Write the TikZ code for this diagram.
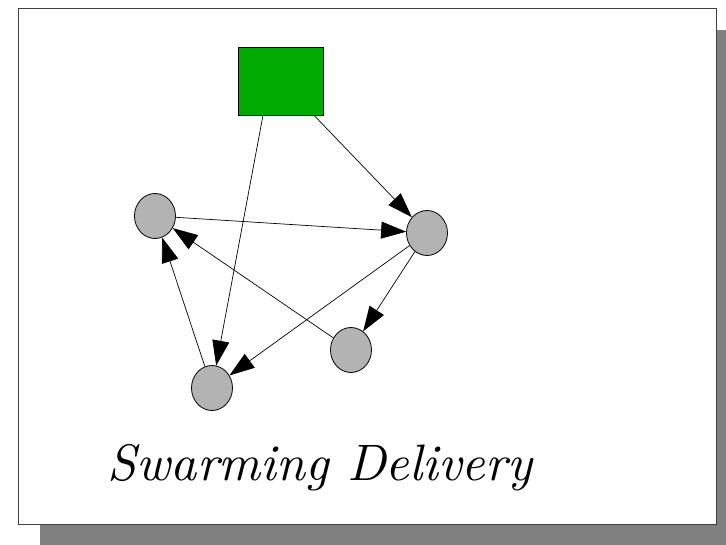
\documentclass[tikz,border=0pt]{standalone}
\usetikzlibrary{arrows.meta,shapes.geometric}
\definecolor{pagegray}{HTML}{808080}
\definecolor{nodegray}{HTML}{B3B3B3}
\definecolor{boxgreen}{HTML}{00AA00}
\begin{document}
\begin{tikzpicture}[x=1pt,y=-1pt,
  agent/.style={draw=black,line width=0.8pt,fill=nodegray,ellipse,
    minimum width=41pt,minimum height=45pt,inner sep=0pt},
  depot/.style={draw=black,line width=0.6pt,fill=boxgreen,rectangle,
    minimum width=85pt,minimum height=68pt,inner sep=0pt},
  link/.style={draw=black,line width=0.7pt,
    -{Triangle[length=25pt,width=17pt]}}]
  \useasboundingbox (0,0) rectangle (726,545);
  % page with drop shadow
  \fill[pagegray] (40,30) rectangle (726,545);
  \draw[fill=white,draw=black!75,line width=0.8pt] (18,8) rectangle (716,524);
  % nodes
  \node[depot] (sq) at (280.5,81) {};
  \node[agent] (a) at (155,216) {};
  \node[agent] (b) at (427,233) {};
  \node[agent] (c) at (351,350) {};
  \node[agent] (d) at (212,388) {};
  \coordinate (s1) at ([xshift=-17.5pt]sq.south);
  \coordinate (s2) at ([xshift=33.5pt]sq.south);
  % connectors
  \draw[link] (s2) -- (b);
  \draw[link] (s1) -- (d);
  \draw[link] (a) -- (b);
  \draw[link] (b) -- (d);
  \draw[link] (b) -- (c);
  \draw[link] (c) -- (a);
  \draw[link] (d) -- (a);
  % title
  \node[anchor=base,inner sep=0pt] (t) at (320,480)
    {\resizebox{424pt}{!}{\itshape Swarming Delivery}};
\end{tikzpicture}
\end{document}
